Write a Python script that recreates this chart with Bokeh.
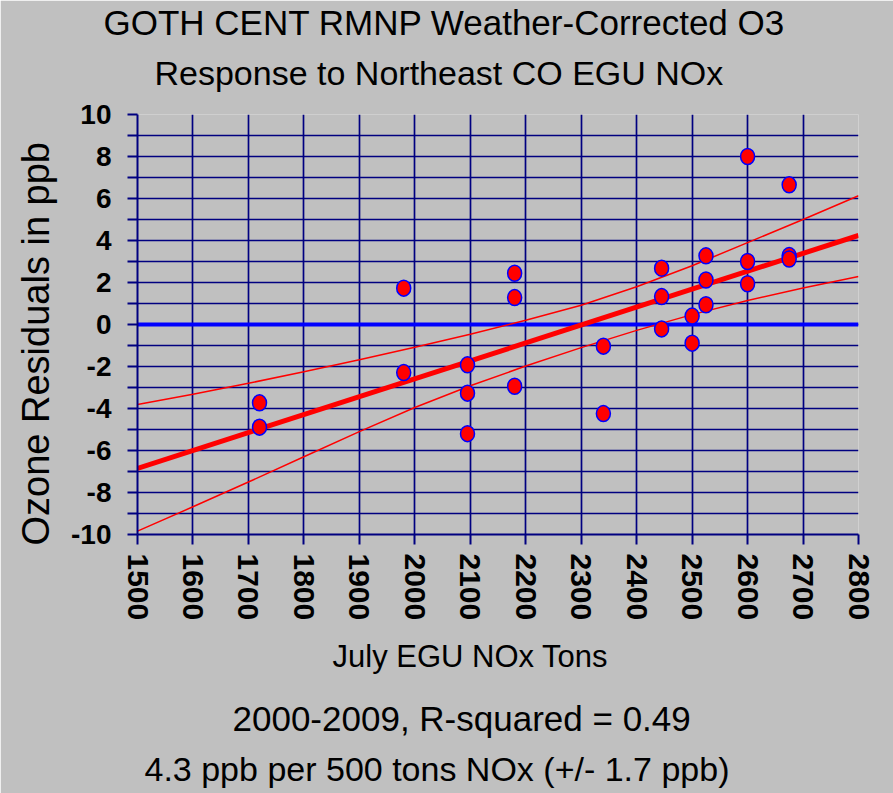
import math
from bokeh.plotting import figure
from bokeh.models import Range1d, FixedTicker, Title, CustomJSTickFormatter
from bokeh.embed import file_html
from bokeh.resources import INLINE

# ---- data ----
nox = [1720, 1720, 1980, 1980, 2095, 2095, 2095, 2180, 2180, 2180, 2340, 2340,
       2445, 2445, 2445, 2500, 2500, 2525, 2525, 2525, 2600, 2600, 2600,
       2675, 2675, 2675]
resid = [-3.73, -4.89, 1.73, -2.29, -1.92, -3.27, -5.20, 2.44, 1.28, -2.94, -1.03, -4.24,
         2.68, 1.33, -0.21, 0.40, -0.89, 3.27, 2.12, 0.94, 8.00, 3.00, 1.94,
         6.65, 3.28, 3.12]

fit_x = [1500, 2800]
fit_y = [-6.85, 4.24]

band_x = [1500, 1600, 1700, 1800, 1900, 2000, 2100, 2200, 2300, 2400, 2500, 2600, 2700, 2800]
band_upper = [-3.81, -3.32, -2.80, -2.25, -1.68, -1.08, -0.46, 0.20, 0.92, 1.80, 2.80, 3.90, 5.00, 6.13]
band_lower = [-9.84, -8.68, -7.50, -6.30, -5.10, -3.95, -2.92, -1.98, -1.10, -0.28, 0.47, 1.14, 1.74, 2.29]

zero_x = [1500, 2800]
zero_y = [0, 0]

x_ticks = [1500, 1600, 1700, 1800, 1900, 2000, 2100, 2200, 2300, 2400, 2500, 2600, 2700, 2800]
y_major = [-10, -8, -6, -4, -2, 0, 2, 4, 6, 8, 10]
y_minor = [-9, -7, -5, -3, -1, 1, 3, 5, 7, 9]

title_1 = "GOTH CENT RMNP Weather-Corrected O3"
title_2 = "Response to Northeast CO EGU NOx"
x_title = "July EGU NOx Tons"
y_title = "Ozone Residuals in ppb"
note_1 = "2000-2009, R-squared = 0.49"
note_2 = "4.3 ppb per 500 tons NOx (+/- 1.7 ppb)"

BG = "#C0C0C0"
GRID = "#000080"
FONT = "Liberation Sans"

W, H = 893, 793
p = figure(width=W, height=H, x_range=Range1d(1500, 2800), y_range=Range1d(-10, 10),
           output_backend="svg", toolbar_location=None,
           min_border_left=137, min_border_right=35, min_border_top=114, min_border_bottom=259)
p.background_fill_color = BG
p.border_fill_color = BG
p.outline_line_color = None

# grid
p.xgrid.ticker = FixedTicker(ticks=x_ticks)
p.xgrid.grid_line_color = GRID
p.xgrid.grid_line_width = 1.7
p.ygrid.ticker = FixedTicker(ticks=[t for t in y_major if t < 10], minor_ticks=y_minor)
p.ygrid.grid_line_color = GRID
p.ygrid.grid_line_width = 1.7
p.ygrid.minor_grid_line_color = GRID
p.ygrid.minor_grid_line_width = 1.7

# axes
for ax in (p.xaxis[0], p.yaxis[0]):
    ax.axis_line_color = GRID
    ax.axis_line_width = 2
    ax.major_tick_line_color = GRID
    ax.major_tick_line_width = 2
    ax.minor_tick_line_color = GRID
    ax.minor_tick_line_width = 2
    ax.major_tick_out = 10
    ax.major_tick_in = 0
    ax.minor_tick_out = 10
    ax.minor_tick_in = 0
    ax.major_label_text_font = FONT
    ax.major_label_text_font_style = "bold"
    ax.major_label_text_color = "black"

p.xaxis.ticker = FixedTicker(ticks=x_ticks, minor_ticks=[])
p.xaxis.major_label_orientation = -math.pi / 2
p.xaxis.major_label_text_font_size = "30px"
p.xaxis.major_label_standoff = 9

p.yaxis.ticker = FixedTicker(ticks=y_major, minor_ticks=y_minor)
p.yaxis.formatter = CustomJSTickFormatter(code="return tick.toString();")
p.yaxis.major_label_text_font_size = "28px"
p.yaxis.major_label_standoff = 16

# marks
p.line(zero_x, zero_y, line_color="#0000FF", line_width=4)
p.line(band_x, band_upper, line_color="#FF0000", line_width=1.5)
p.line(band_x, band_lower, line_color="#FF0000", line_width=1.5)
p.line(fit_x, fit_y, line_color="#FF0000", line_width=5)
p.ellipse(x=nox, y=resid, width=14, height=16, width_units="screen", height_units="screen",
          fill_color="#FF0000", line_color="#0000FF", line_width=1.5)

# texts as titles around the frame
def ttl(text, size, side, offset, standoff, valign="bottom"):
    p.add_layout(Title(text=text, align="left", offset=offset, standoff=standoff,
                       vertical_align=valign,
                       text_font=FONT, text_font_size=size, text_font_style="normal",
                       text_color="black"), side)

ttl(" ", "1px", "above", 0, 9)           # spacer between frame and subtitle
ttl(title_2, "34px", "above", 17, 21)
ttl(title_1, "35px", "above", -34, 0)
ttl(x_title, "31px", "below", 195, 30, "top")
ttl(note_1, "35px", "below", 95, 16, "top")
ttl(note_2, "34px", "below", 7, 4, "top")
ttl(y_title, "38px", "left", -11, 23)

open("out.html", "w").write(file_html(p, INLINE))
